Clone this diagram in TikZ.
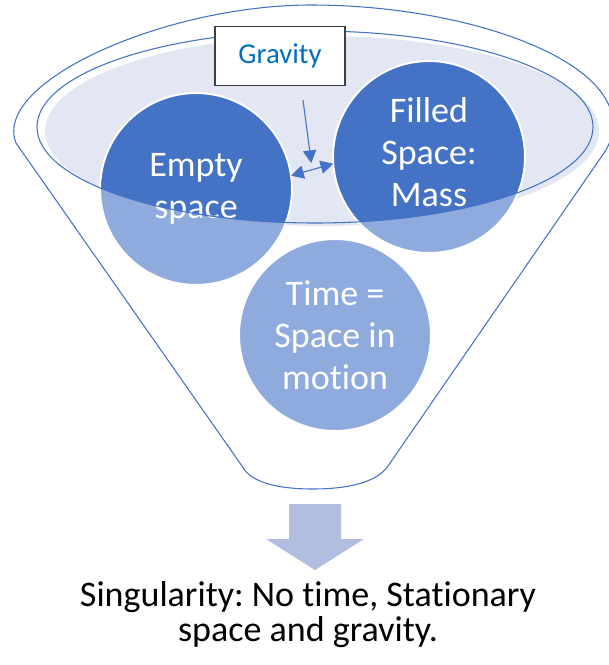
\documentclass[tikz,border=0pt]{standalone}
\usepackage{fontspec}
\setmainfont{Carlito}[Ligatures=NoCommon]
\frenchspacing
\usepackage{tikz}
\definecolor{officeblue}{RGB}{68,114,196}
\definecolor{paleblue}{RGB}{143,170,220}
\definecolor{mistblue}{RGB}{227,231,243}
\definecolor{arrowblue}{RGB}{178,190,224}
\definecolor{gravblue}{RGB}{0,112,192}
\usetikzlibrary{arrows.meta, calc}

\begin{document}
\begin{tikzpicture}[x=0.75pt, y=-0.75pt,
			>={Triangle[length=9.5pt, width=10pt]},   %arrow tips
			funnelline/.style={draw=officeblue, line width=0.8pt},
			bubble/.style={circle, draw=white, line width=1.5pt, minimum size=144pt, inner sep=0pt, outer sep=0pt},
			bubbletext/.style={text=white, align=center, font=\fontsize{27}{31.5}\selectfont},
			gravitybox/.style={draw=black!75, fill=white, line width=1.1pt, minimum width=97.5pt, minimum height=44pt,
				text=gravblue, font=\fontsize{21.6}{25}\selectfont},
			pullarrow/.style={->, draw=officeblue, fill=officeblue, line width=0.8pt}]
			\useasboundingbox (0,0) rectangle (608,665);
			%funnel outline
			\draw[funnelline] (16,143) .. controls (-8,82) and (165,5) .. (311,5)
				.. controls (480,5) and (650,70) .. (606,150) -- (388,466)
				.. controls (375,485) and (340,489) .. (313,489)
				.. controls (285,489) and (252,485) .. (242,466) -- cycle;
			%funnel mouth
			\fill[mistblue] (322,131) ellipse[x radius=277, y radius=95];
			%light parts of the bubbles
			\foreach \p in {(196,189), (429,157), (335,335)}
				\fill[paleblue] \p circle[radius=96];
			%dark parts inside the mouth
			\begin{scope}
				\clip (315,127) ellipse[x radius=278, y radius=96];
				\foreach \p in {(196,189), (429,157), (335,335)}
					\fill[officeblue] \p circle[radius=96];
			\end{scope}
			%bubbles
			\node[bubble] (empty) at (196,189) {};
			\node[bubble] (filled) at (429,157) {};
			\node[bubble] (time) at (335,335) {};
			\node[bubbletext] (emptytext) at (empty) {Empty\\space};
			\node[bubbletext] (filledtext) at ($(filled)+(0,-5)$) {Filled\\Space:\\Mass};
			\node[bubbletext] (timetext) at (time) {Time =\\Space in\\motion};
			\draw[funnelline] (315,127) ellipse[x radius=278, y radius=96];
			%gravity
			\node[gravitybox] (gravity) at (280,56) {Gravity};
			\coordinate (pull) at (303,100);
			\draw[pullarrow, <->] (empty.8) -- (filled.184);
			\draw[pullarrow, shorten >=5pt] (pull) -- ($(empty.8)!0.5!(filled.184)$);
			%outlet
			\fill[arrowblue] (289,504) -- (341,504) -- (341,539) -- (364,539) -- (315,570)
				-- (266,539) -- (289,539) -- cycle;
			\node[align=center, font=\fontsize{27}{26.25}\selectfont] (singularity) at (308,615)
				{Singularity: No time, Stationary\\space and gravity.};
		\end{tikzpicture}
\end{document}
